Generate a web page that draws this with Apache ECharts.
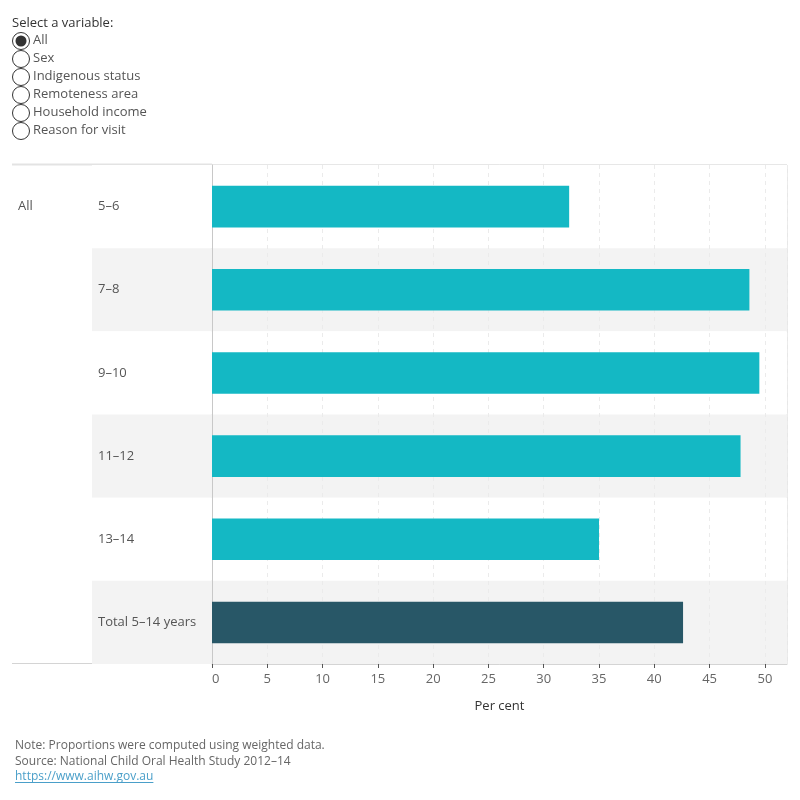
<!DOCTYPE html>
<html>
<head>
<meta charset="UTF-8">
<title>Per cent of children by age</title>
<script src="https://cdn.jsdelivr.net/npm/echarts@6/dist/echarts.min.js"></script>
<style>
  html, body { margin: 0; padding: 0; background: #fff; }
  #container { width: 800px; height: 800px; }
</style>
</head>
<body>
<div id="container"></div>
<script>
// data
var ageGroups = ['5–6', '7–8', '9–10', '11–12', '13–14', 'Total 5–14 years'];
var perCent = [32.3, 48.6, 49.5, 47.8, 35.0, 42.6];
var xTicks = [0, 5, 10, 15, 20, 25, 30, 35, 40, 45, 50];
var variables = ['All', 'Sex', 'Indigenous status', 'Remoteness area', 'Household income', 'Reason for visit'];
var notes = [
  'Note: Proportions were computed using weighted data.',
  'Source: National Child Oral Health Study 2012–14'
];
var link = 'https://www.aihw.gov.au';

var teal = '#14b8c4';
var dark = '#285767';
var font = '"Open Sans", "Noto Sans", sans-serif';

var dom = document.getElementById('container');
var myChart = echarts.init(dom);

// width of the link text, for its underline
var ctx = document.createElement('canvas').getContext('2d');
ctx.font = '12px ' + font;
var linkWidth = ctx.measureText(link).width;

// radio list + footer
var graphics = [];
graphics.push({
  type: 'text', left: 12, top: 17,
  style: { text: 'Select a variable:', fill: '#333', font: '13px ' + font }
});
variables.forEach(function (v, i) {
  var cy = 41 + i * 18;
  graphics.push({
    type: 'circle', shape: { cx: 21, cy: cy, r: 8.5 },
    style: { fill: '#fff', stroke: '#333', lineWidth: 1 }
  });
  if (i === 0) {
    graphics.push({
      type: 'circle', shape: { cx: 21, cy: cy, r: 5.5 },
      style: { fill: '#333' }
    });
  }
  graphics.push({
    type: 'text', left: 33, top: cy - 7,
    style: { text: v, fill: '#555', font: '13px ' + font }
  });
});
graphics.push({
  type: 'text', left: 18, top: 200,
  style: { text: 'All', fill: '#555', font: '13px ' + font }
});
notes.forEach(function (n, i) {
  graphics.push({
    type: 'text', left: 15, top: 740 + i * 16,
    style: { text: n, fill: '#666', font: '12px ' + font }
  });
});
graphics.push({
  type: 'text', left: 15, top: 771,
  style: { text: link, fill: '#4a9fc9', font: '12px ' + font }
});
graphics.push({
  type: 'line', shape: { x1: 15, y1: 782.5, x2: 15 + linkWidth, y2: 782.5 },
  style: { stroke: '#4a9fc9', lineWidth: 1 }
});
// header / footer lines of the table, left of the plot
graphics.push({
  type: 'line', shape: { x1: 12, y1: 164.5, x2: 212, y2: 164.5 },
  style: { stroke: '#e3e3e3', lineWidth: 2 }
});
graphics.push({
  type: 'line', shape: { x1: 12, y1: 663.5, x2: 212, y2: 663.5 },
  style: { stroke: '#d4d4d4', lineWidth: 1 }
});

option = {
  animation: false,
  textStyle: { fontFamily: font },
  graphic: graphics,
  grid: [
    { left: 212, right: 13, top: 165, bottom: 136, show: true, borderColor: '#cfcfcf', borderWidth: 1 },
    { left: 92, right: 13, top: 165, bottom: 136 }
  ],
  xAxis: [
    {
      type: 'value', gridIndex: 0, min: 0, max: 52, interval: 5,
      name: 'Per cent', nameLocation: 'middle', nameGap: 36,
      nameTextStyle: { color: '#333', fontSize: 13 },
      axisLine: { show: true, lineStyle: { color: '#d4d4d4' } },
      axisTick: { show: true, length: 4, lineStyle: { color: '#555' } },
      axisLabel: {
        color: '#666', fontSize: 13, margin: 9, showMaxLabel: false,
        alignMinLabel: 'left',
        formatter: function (v) { return xTicks.indexOf(v) >= 0 ? v : ''; }
      },
      splitLine: { show: true, lineStyle: { color: '#ebebeb', type: [4, 4] } },
      z: 3
    },
    { type: 'value', gridIndex: 1, show: false }
  ],
  yAxis: [
    {
      type: 'category', gridIndex: 0, data: ageGroups, inverse: true,
      axisLine: { show: true, lineStyle: { color: '#c8c8c8' } },
      axisTick: { show: false },
      axisLabel: { color: '#555', fontSize: 13, align: 'left', margin: 114, padding: [7, 0, 0, 0] },
      z: 3
    },
    {
      type: 'category', gridIndex: 1, data: ageGroups, inverse: true,
      axisLine: { show: false }, axisTick: { show: false }, axisLabel: { show: false },
      splitArea: { show: true, areaStyle: { color: ['#ffffff', '#f3f3f3'] } }
    }
  ],
  series: [
    {
      type: 'bar', xAxisIndex: 0, yAxisIndex: 0, data: perCent,
      barCategoryGap: '50%', z: 4,
      itemStyle: {
        color: function (p) { return p.dataIndex === ageGroups.length - 1 ? dark : teal; }
      }
    }
  ]
};

if (option && typeof option === 'object') {
  myChart.setOption(option, true);
}
</script>
</body>
</html>
